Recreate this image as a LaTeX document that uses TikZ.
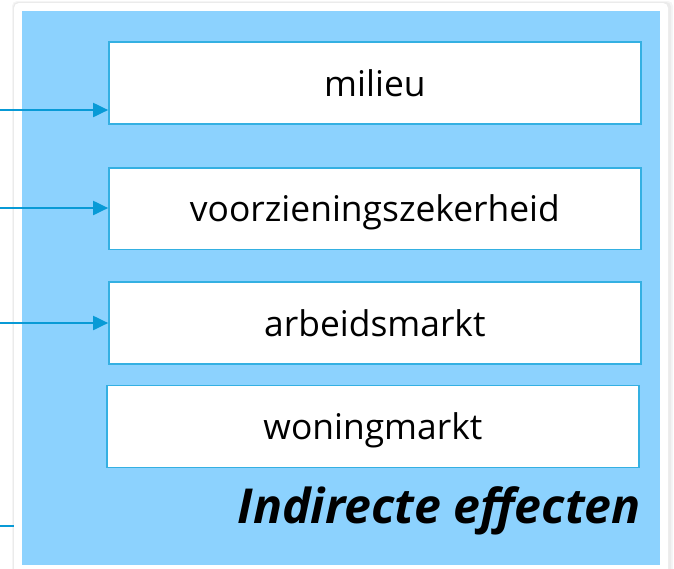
\documentclass[tikz,border=0pt]{standalone}
\usepackage{fontspec}
\setmainfont{Open Sans}
\usetikzlibrary{arrows.meta}
\definecolor{panel}{RGB}{140,210,254}
\definecolor{edgeblue}{RGB}{52,176,226}
\definecolor{arrowblue}{RGB}{8,154,214}
\tikzset{
  box/.style={draw=edgeblue, line width=1.5pt, fill=white, minimum width=532pt, minimum height=82pt, inner sep=0pt, text height=26pt, text depth=0pt, font=\fontsize{35.4}{38}\selectfont},
  conn/.style={draw=arrowblue, line width=2pt, -{Triangle[length=15pt,width=14pt]}},
  plainconn/.style={draw=arrowblue, line width=2pt},
}
\begin{document}
\begin{tikzpicture}[x=1pt,y=-1pt]
\useasboundingbox (0,0) rectangle (674,568);
% card with soft shadow
\fill[black!4, rounded corners=5pt] (12,1) rectangle (673,580);
\fill[black!8, rounded corners=5pt] (13,2) rectangle (671,580);
\fill[white, rounded corners=5pt] (14,3) rectangle (668,580);
\fill[panel] (22,11) rectangle (660,565);
% boxes
\node[box] (m) at (374.9,83) {milieu};
\node[box, minimum height=81.3pt] (v) at (374.9,208.7) {voorzieningszekerheid};
\node[box] (a) at (374.9,323) {arbeidsmarkt};
\node[box] (w) at (372.9,426.7) {woningmarkt};
\node[anchor=base east, inner sep=0pt, font=\fontsize{48.2}{52}\selectfont\bfseries\itshape] (t) at (641,523) {Indirecte effecten};
% connectors
\coordinate (s1) at (0,110);
\coordinate (s2) at (0,208);
\coordinate (s3) at (0,323);
\coordinate (s4) at (0,526);
\coordinate (e4) at (14,526);
\draw[conn] (s1) -- (s1 -| m.west);
\draw[conn] (s2) -- (s2 -| v.west);
\draw[conn] (s3) -- (s3 -| a.west);
\draw[plainconn] (s4) -- (e4);
\end{tikzpicture}
\end{document}
